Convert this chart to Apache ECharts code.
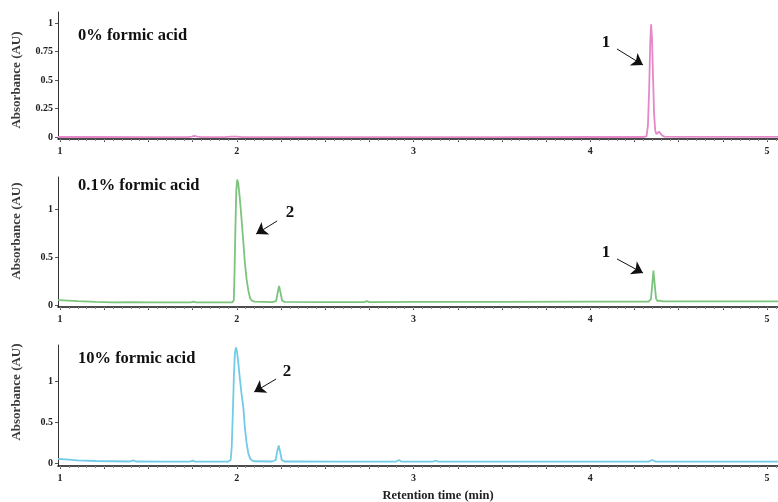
<!DOCTYPE html>
<html><head><meta charset="utf-8">
<script src="https://cdn.jsdelivr.net/npm/echarts@6/dist/echarts.min.js"></script>
<style>html,body{margin:0;padding:0;background:#fff}#c{width:778px;height:502px}</style>
</head><body><div id="c"></div><script>
// ---- data ----
const xTickLabels = [1, 2, 3, 4, 5];
const yTicksTop = [0, 0.25, 0.5, 0.75, 1];
const yTicksMid = [0, 0.5, 1];
const yTicksBot = [0, 0.5, 1];
const panelTitles = ['0% formic acid', '0.1% formic acid', '10% formic acid'];
const yAxisTitle = 'Absorbance (AU)';
const xAxisTitle = 'Retention time (min)';

const trace0 = [[0.988,0.0],[1.2,0.0],[1.5,-0.001],[1.72,-0.001],[1.745,0.004],[1.76,0.01],[1.775,0.004],[1.8,-0.001],[1.93,-0.001],[1.97,0.003],[2.0,0.003],[2.03,-0.001],[2.5,-0.001],[3.0,-0.001],[3.5,-0.001],[4.0,0.0],[4.3,0.0],[4.318,0.005],[4.326,0.1],[4.333,0.42],[4.339,0.83],[4.344,0.99],[4.349,0.87],[4.355,0.52],[4.361,0.2],[4.367,0.06],[4.374,0.025],[4.381,0.032],[4.389,0.047],[4.397,0.032],[4.407,0.012],[4.42,0.003],[4.5,0.001],[5.0,0.001],[5.062,0.001]];
const trace1 = [[0.988,0.05],[1.05,0.045],[1.1,0.04],[1.2,0.032],[1.3,0.028],[1.4,0.03],[1.5,0.027],[1.74,0.027],[1.755,0.035],[1.77,0.027],[1.9,0.027],[1.975,0.028],[1.983,0.05],[1.987,0.35],[1.992,0.82],[1.997,1.2],[2.002,1.31],[2.008,1.27],[2.015,1.15],[2.022,1.0],[2.03,0.82],[2.037,0.65],[2.045,0.45],[2.055,0.27],[2.065,0.15],[2.075,0.07],[2.085,0.045],[2.1,0.035],[2.2,0.03],[2.222,0.04],[2.23,0.12],[2.239,0.2],[2.248,0.12],[2.256,0.045],[2.27,0.032],[2.5,0.03],[2.72,0.03],[2.735,0.04],[2.75,0.03],[3.0,0.032],[3.5,0.033],[4.0,0.035],[4.33,0.035],[4.343,0.06],[4.35,0.2],[4.357,0.36],[4.364,0.22],[4.372,0.07],[4.38,0.04],[4.395,0.045],[4.41,0.037],[5.0,0.037],[5.062,0.037]];
const trace2 = [[0.988,0.055],[1.05,0.045],[1.1,0.035],[1.2,0.028],[1.3,0.025],[1.39,0.022],[1.415,0.035],[1.43,0.022],[1.6,0.02],[1.735,0.02],[1.75,0.032],[1.765,0.02],[1.95,0.02],[1.965,0.04],[1.971,0.2],[1.977,0.6],[1.983,1.05],[1.989,1.35],[1.995,1.42],[2.0,1.38],[2.007,1.26],[2.016,1.06],[2.026,0.86],[2.037,0.68],[2.045,0.45],[2.055,0.25],[2.065,0.12],[2.075,0.06],[2.085,0.035],[2.1,0.025],[2.2,0.022],[2.22,0.04],[2.228,0.14],[2.237,0.22],[2.245,0.14],[2.254,0.04],[2.27,0.022],[2.6,0.02],[2.9,0.02],[2.917,0.04],[2.932,0.02],[3.11,0.02],[3.125,0.034],[3.14,0.02],[3.5,0.02],[4.33,0.02],[4.35,0.04],[4.37,0.02],[5.062,0.02]];

// annotation: label position, arrow tail, arrow head (data coords)
const notes0 = [{label:'1', at:[4.089,0.827], tail:[4.151,0.774], head:[4.298,0.633]}];
const notes1 = [{label:'2', at:[2.301,0.961], tail:[2.228,0.878], head:[2.109,0.742]},
                {label:'1', at:[4.089,0.543], tail:[4.151,0.481], head:[4.298,0.334]}];
const notes2 = [{label:'2', at:[2.284,1.119], tail:[2.222,1.033], head:[2.098,0.874]}];

// ---- layout ----
const X_MIN = 0.988, X_MAX = 5.062;
const grids = [
  {left:58, right:0, top:12, height:127},
  {left:58, right:0, top:177, height:130},
  {left:58, right:0, top:345, height:121}
];
const yRanges = [[-0.0176,1.099],[-0.021,1.337],[-0.033,1.45]];
const yTickSets = [yTicksTop, yTicksMid, yTicksBot];
const colors = ['#e488c8', '#7cc47e', '#72cbe6'];
const traces = [trace0, trace1, trace2];
const notes = [notes0, notes1, notes2];

const majorTicks = []; for (let v = 1; v <= 5.0001; v += 0.25) majorTicks.push(+v.toFixed(2));
const minorTicks = []; for (let v = 1; v <= 5.0501; v += 0.05) minorTicks.push(+v.toFixed(2));

const serif = 'Liberation Serif';
const xAxes = [], yAxes = [], series = [];
grids.forEach((g, i) => {
  xAxes.push({
    type:'value', gridIndex:i, min:X_MIN, max:X_MAX, position:'bottom',
    axisLine:{show:true, onZero:false, lineStyle:{color:'#111', width:1.5}},
    axisTick:{show:true, customValues:majorTicks, length:3, lineStyle:{color:'#444', width:1}},
    axisLabel:{show:true, customValues:xTickLabels, margin:7, fontFamily:serif, fontWeight:'bold', fontSize:10, color:'#222', formatter:v=>String(Math.round(v))},
    splitLine:{show:false}
  });
  xAxes.push({
    type:'value', gridIndex:i, min:X_MIN, max:X_MAX, position:'bottom', offset:0,
    axisLine:{show:false, onZero:false},
    axisTick:{show:true, customValues:minorTicks, length:2, lineStyle:{color:'#888', width:1}},
    axisLabel:{show:false}, splitLine:{show:false}
  });
  yAxes.push({
    type:'value', gridIndex:i, min:yRanges[i][0], max:yRanges[i][1],
    axisLine:{show:true, lineStyle:{color:'#333', width:1}},
    axisTick:{show:true, customValues:yTickSets[i], length:3, lineStyle:{color:'#555'}},
    axisLabel:{show:true, customValues:yTickSets[i], margin:5, fontFamily:serif, fontWeight:'bold', fontSize:10, color:'#222', formatter:v=>String(+v.toFixed(2))},
    splitLine:{show:false}
  });
  series.push({
    type:'line', xAxisIndex:2*i, yAxisIndex:i, data:traces[i], showSymbol:false, smooth:false,
    lineStyle:{color:colors[i], width:1.8}, itemStyle:{color:colors[i]}, animation:false, silent:true,
    markLine:{
      silent:true, animation:false, symbol:['none','arrow'], symbolSize:11,
      label:{show:false}, lineStyle:{color:'#111', width:1, type:'solid'}, itemStyle:{color:'#111'},
      data: notes[i].map(n => [{coord:n.tail}, {coord:n.head}])
    },
    markPoint:{
      silent:true, animation:false,
      data: notes[i].map(n => ({coord:n.at, symbol:'circle', symbolSize:1, itemStyle:{color:'rgba(0,0,0,0)'},
        label:{show:true, position:'inside', formatter:n.label, fontFamily:serif, fontWeight:'bold', fontSize:17, color:'#111'}}))
    }
  });
});

const titleTops = [22, 172, 345];
const titles = panelTitles.map((t, i) => ({text:t, left:73, top:titleTops[i], textStyle:{fontFamily:serif, fontWeight:'bold', fontSize:16.5, color:'#111'}}));
titles.push({text:xAxisTitle, left:433, top:484, textAlign:'center', textStyle:{fontFamily:serif, fontWeight:'bold', fontSize:12.5, color:'#222'}});

const yNameCenters = [80, 231, 392];
const graphics = yNameCenters.map(c => ({type:'text', x:17, y:c, rotation:Math.PI/2,
  style:{text:yAxisTitle, font:'bold 13px "Liberation Serif"', align:'center', verticalAlign:'middle', fill:'#3a3a3a'}}));

const chart = echarts.init(document.getElementById('c'), null, {renderer:'canvas'});
chart.setOption({
  backgroundColor:'#fff', animation:false,
  title:titles, grid:grids, xAxis:xAxes, yAxis:yAxes, series:series, graphic:graphics
});
</script></body></html>
